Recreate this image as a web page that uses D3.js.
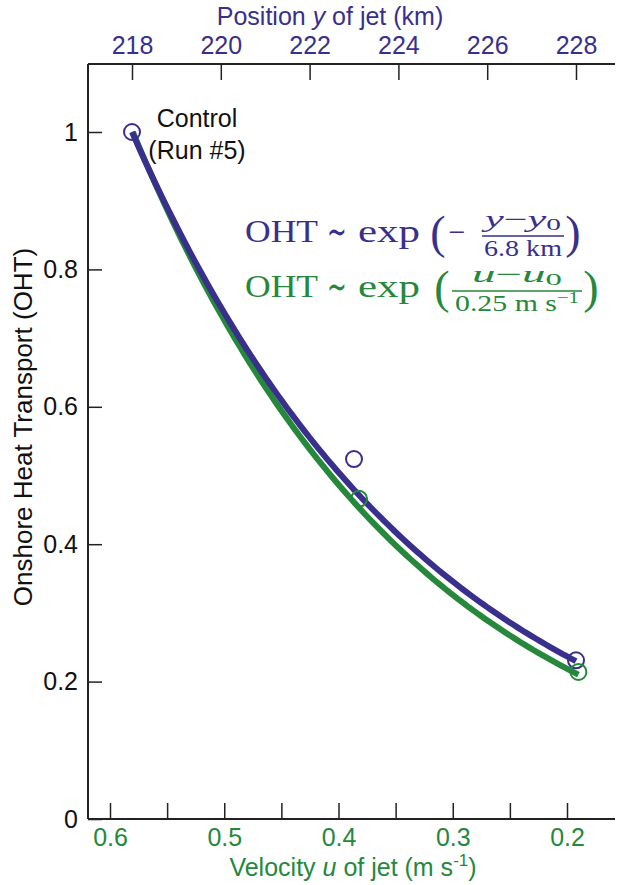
<!DOCTYPE html>
<html><head><meta charset="utf-8">
<script src="https://cdn.jsdelivr.net/npm/d3@7"></script>
<style>
body{margin:0;background:#fff}
svg{display:block}
text{font-family:"Liberation Sans",Arial,Helvetica,sans-serif}
.m{font-family:"Liberation Serif","Times New Roman",serif}
</style>
</head><body>
<svg id="c" width="621" height="885"></svg>
<script>
// ---------- data ----------
const positionKm = [218, 223, 228];
const ohtByPosition = [1.0, 0.524, 0.231];
const velocity = [0.58, 0.382, 0.19];
const ohtByVelocity = [1.0, 0.466, 0.214];
const topTicks = [218, 220, 222, 224, 226, 228];
const bottomTicks = [0.6, 0.5, 0.4, 0.3, 0.2];
const bottomMinorTicks = [0.55, 0.45, 0.35, 0.25];
const leftTicks = [0, 0.2, 0.4, 0.6, 0.8, 1];
const fitLengthKm = 6.8;      // OHT ~ exp(-(y-y0)/6.8 km)
const fitVelocityScale = 0.25; // OHT ~ exp((u-u0)/0.25 m/s)

// ---------- styles ----------
const blue = "#392f8d", green = "#25883a", ink = "#222";

const svg = d3.select("#c");
const xKm = d3.scaleLinear().domain([218, 228]).range([132, 576]);
const xU = d3.scaleLinear().domain([0.6, 0.2]).range([110, 567]);
const y = d3.scaleLinear().domain([0, 1]).range([819, 132]);
const L = 88, R = 615, T = 64, B = 819;

// frame lines
svg.append("line").attr("x1", L).attr("x2", R).attr("y1", T).attr("y2", T).attr("stroke", ink).attr("stroke-width", 2);
svg.append("line").attr("x1", L).attr("x2", R).attr("y1", B).attr("y2", B).attr("stroke", ink).attr("stroke-width", 2);
svg.append("line").attr("x1", L).attr("x2", L).attr("y1", T).attr("y2", B).attr("stroke", ink).attr("stroke-width", 2);

// top axis (km)
const gTop = svg.append("g").attr("transform", `translate(0,${T})`)
  .call(d3.axisTop(xKm).tickValues(topTicks).tickSizeInner(-16).tickSizeOuter(0).tickPadding(10).tickFormat(d3.format("d")));
gTop.select(".domain").remove();
gTop.selectAll(".tick line").attr("stroke", ink).attr("stroke-width", 1.5);
gTop.selectAll(".tick text").attr("fill", blue).style("font-size", "25px").style("font-family", '"Liberation Sans",Arial,sans-serif');

// bottom axis (velocity)
const gBot = svg.append("g").attr("transform", `translate(0,${B})`)
  .call(d3.axisBottom(xU).tickValues(bottomTicks).tickSizeInner(-16).tickSizeOuter(0).tickPadding(9).tickFormat(d3.format(".1f")));
gBot.select(".domain").remove();
gBot.selectAll(".tick line").attr("stroke", ink).attr("stroke-width", 1.5);
gBot.selectAll(".tick text").attr("fill", green).style("font-size", "25px").style("font-family", '"Liberation Sans",Arial,sans-serif');
const gBotMinor = svg.append("g").attr("transform", `translate(0,${B})`)
  .call(d3.axisBottom(xU).tickValues(bottomMinorTicks).tickSizeInner(-16).tickSizeOuter(0).tickFormat(""));
gBotMinor.select(".domain").remove();
gBotMinor.selectAll(".tick line").attr("stroke", ink).attr("stroke-width", 1.5);

// left axis
const gLeft = svg.append("g").attr("transform", `translate(${L},0)`)
  .call(d3.axisLeft(y).tickValues(leftTicks).tickSizeInner(-14).tickSizeOuter(0).tickPadding(10).tickFormat(d3.format("~g")));
gLeft.select(".domain").remove();
gLeft.selectAll(".tick line").attr("stroke", ink).attr("stroke-width", 1.5);
gLeft.selectAll(".tick text").attr("fill", "#111").style("font-size", "25px").style("font-family", '"Liberation Sans",Arial,sans-serif');

// axis titles
const topTitle = svg.append("text").attr("x", 330).attr("y", 25).attr("text-anchor", "middle")
  .attr("fill", blue).style("font-size", "25px");
topTitle.append("tspan").text("Position ");
topTitle.append("tspan").style("font-style", "italic").text("y");
topTitle.append("tspan").text(" of jet (km)");

const botTitle = svg.append("text").attr("x", 353).attr("y", 876).attr("text-anchor", "middle")
  .attr("fill", green).style("font-size", "25px");
botTitle.append("tspan").text("Velocity ");
botTitle.append("tspan").style("font-style", "italic").text("u");
botTitle.append("tspan").text(" of jet (m s");
botTitle.append("tspan").attr("dy", -10).style("font-size", "17px").text("-1");
botTitle.append("tspan").attr("dy", 10).text(")");

svg.append("text").attr("transform", "translate(32,427) rotate(-90)").attr("text-anchor", "middle")
  .attr("fill", "#111").style("font-size", "26px").text("Onshore Heat Transport (OHT)");

// fit curves
const kmSamples = d3.range(0, 101).map(i => 218 + i * 0.1);
const uSamples = d3.range(0, 101).map(i => 0.58 - i * 0.0039);
const lineKm = d3.line().x(d => xKm(d)).y(d => y(Math.exp(-(d - 218) / fitLengthKm)));
const lineU = d3.line().x(d => xU(d)).y(d => y(Math.exp((d - 0.58) / fitVelocityScale)));
svg.append("path").attr("d", lineU(uSamples)).attr("fill", "none").attr("stroke", green).attr("stroke-width", 6);
svg.append("path").attr("d", lineKm(kmSamples)).attr("fill", "none").attr("stroke", blue).attr("stroke-width", 6);

// points
svg.selectAll("circle.b").data(positionKm).join("circle").attr("class", "b")
  .attr("cx", d => xKm(d)).attr("cy", (d, i) => y(ohtByPosition[i])).attr("r", 8)
  .attr("fill", "none").attr("stroke", blue).attr("stroke-width", 2);
svg.selectAll("circle.g").data(velocity.slice(1)).join("circle").attr("class", "g")
  .attr("cx", d => xU(d)).attr("cy", (d, i) => y(ohtByVelocity[i + 1])).attr("r", 8)
  .attr("fill", "none").attr("stroke", green).attr("stroke-width", 2);

// control label
svg.append("text").attr("x", 197).attr("y", 127).attr("text-anchor", "middle").attr("fill", "#111").style("font-size", "25px").text("Control");
svg.append("text").attr("x", 197).attr("y", 159).attr("text-anchor", "middle").attr("fill", "#111").style("font-size", "25px").text("(Run #5)");

// ---------- equations ----------
function t(x, yy, size, color, anchor, str, opts = {}) {
  const e = svg.append("text").attr("class", "m").attr("x", x).attr("y", yy)
    .attr("text-anchor", anchor).attr("fill", color).style("font-size", size + "px");
  if (opts.len) e.attr("textLength", opts.len).attr("lengthAdjust", "spacingAndGlyphs");
  if (str !== null) e.text(str);
  return e;
}
function eqLine(color, base, parenL, parenR, barX1, barX2, barY, numParts, numLen, denParts, denLen, neg) {
  t(245, base, 32, color, "start", "OHT", { len: 73 });
  t(337, base + 3, 40, color, "middle", "∼", { len: 20 });
  t(358, base, 32, color, "start", "exp", { len: 62 });
  t(parenL, base + 6, 46, color, "middle", "(");
  t(parenR, base + 6, 46, color, "middle", ")");
  if (neg) t(457, base, 30, color, "middle", "−");
  svg.append("line").attr("x1", barX1).attr("x2", barX2).attr("y1", barY).attr("y2", barY)
    .attr("stroke", color).attr("stroke-width", 1.5);
  const cx = (barX1 + barX2) / 2;
  const n = t(cx, barY - 9, 23, color, "middle", null, { len: numLen });
  numParts.forEach(p => {
    const s = n.append("tspan").text(p.s);
    if (p.i) s.style("font-style", "italic");
    if (p.sub) s.attr("dy", 3).style("font-size", "16px");
  });
  const d = t(cx, barY + 20, 23, color, "middle", null, { len: denLen });
  denParts.forEach(p => {
    const s = d.append("tspan").text(p.s);
    if (p.sup) s.attr("dy", -8).style("font-size", "16px");
  });
}
eqLine(blue, 242, 438, 573, 482, 564, 236,
  [{ s: "y", i: 1 }, { s: "−" }, { s: "y", i: 1 }, { s: "0", sub: 1 }], 76,
  [{ s: "6.8 km" }], 78, true);
eqLine(green, 297, 442, 591, 452, 582, 291,
  [{ s: "u", i: 1 }, { s: "−" }, { s: "u", i: 1 }, { s: "0", sub: 1 }], 90,
  [{ s: "0.25 m s" }, { s: "−1", sup: 1 }], 124, false);
</script>
</body></html>
